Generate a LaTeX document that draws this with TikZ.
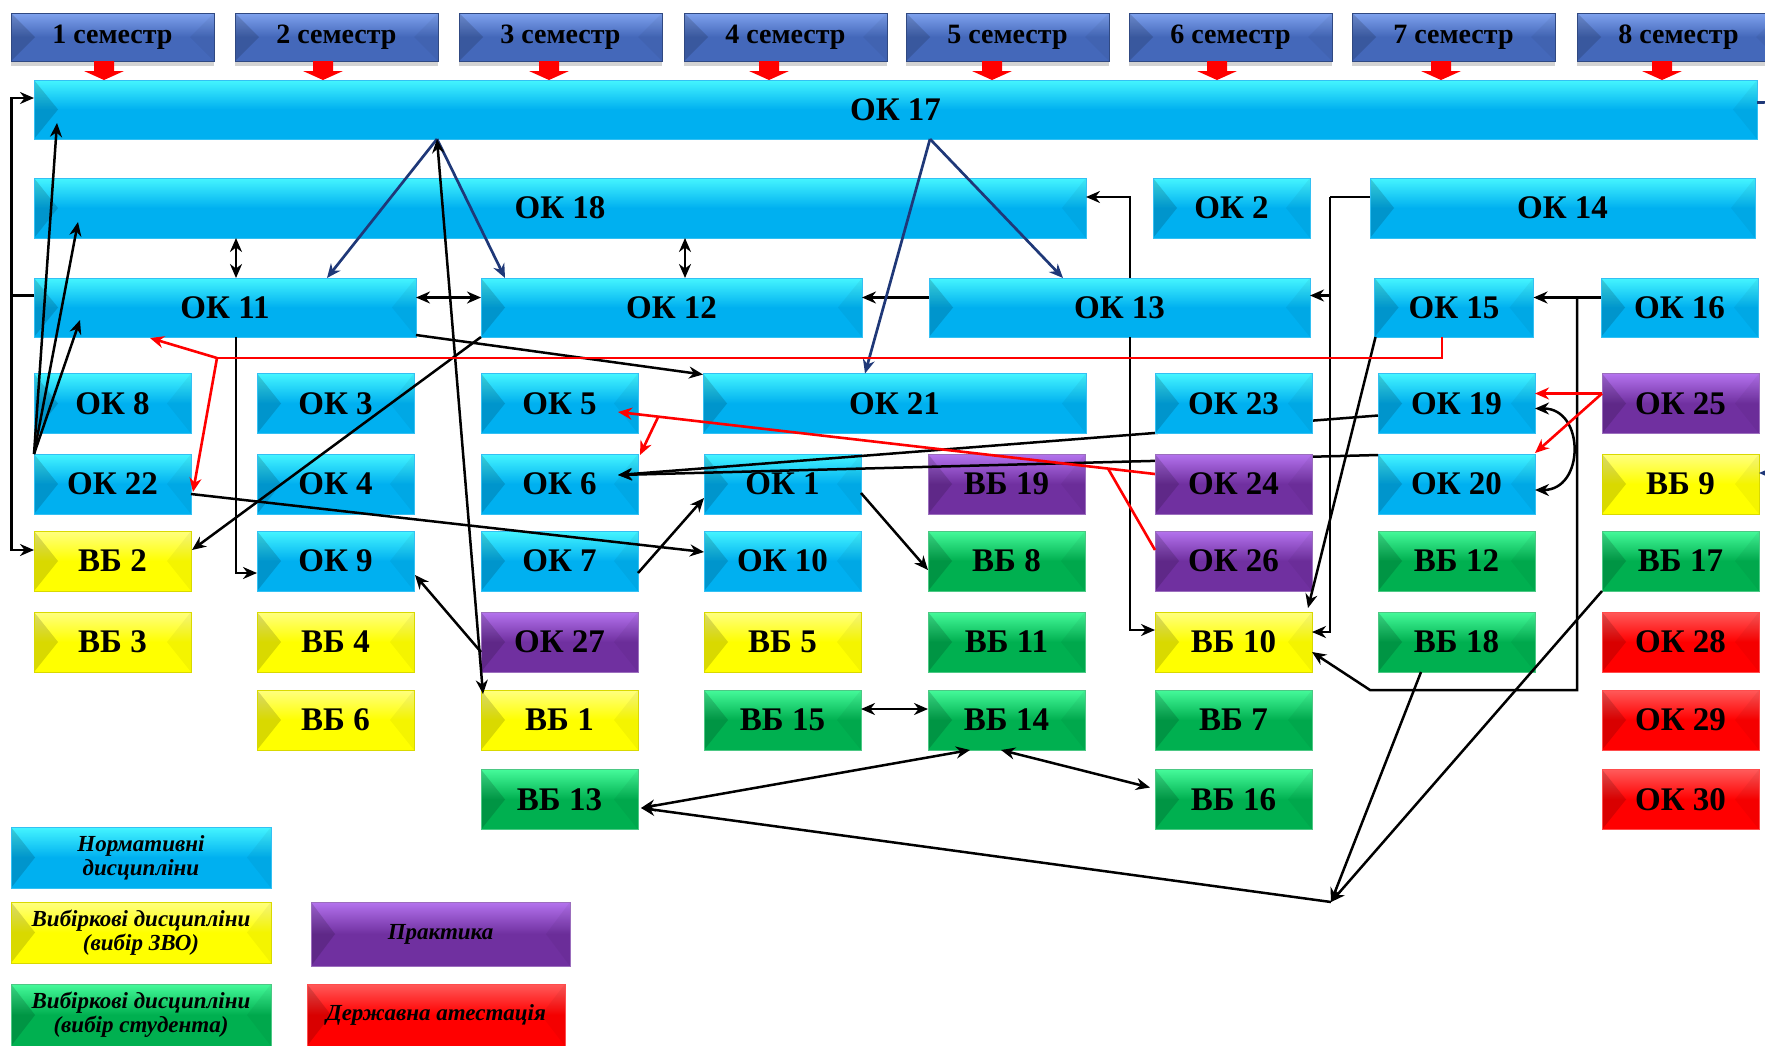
\documentclass[tikz,border=0pt]{standalone}
\usepackage{fontspec}
\setmainfont{Liberation Serif}
\usetikzlibrary{calc,arrows.meta,shadows}
\definecolor{cyB}{HTML}{00B0F0}
\definecolor{cyT}{HTML}{45F5FF}
\definecolor{ylB}{HTML}{FFFF00}
\definecolor{ylT}{HTML}{FFFF80}
\definecolor{grB}{HTML}{00B050}
\definecolor{grT}{HTML}{45FA9A}
\definecolor{puB}{HTML}{7030A0}
\definecolor{puT}{HTML}{B473EE}
\definecolor{rdB}{HTML}{FF0000}
\definecolor{rdT}{HTML}{FF5A5A}
\definecolor{seB}{HTML}{4468BA}
\definecolor{seT}{HTML}{7FA2EE}
\definecolor{navy}{HTML}{1F3878}
\pgfdeclarelayer{front}
\pgfsetlayers{main,front}
\tikzset{
  bev/.style={path picture={
    \fill[black,opacity=0.15] (path picture bounding box.north west) -- ([xshift=12pt]path picture bounding box.west) -- (path picture bounding box.south west) -- cycle;
    \fill[black,opacity=0.045] (path picture bounding box.north east) -- ([xshift=-12pt]path picture bounding box.east) -- (path picture bounding box.south east) -- cycle;}},
  basebox/.style={rectangle, inner sep=0pt, outer sep=0pt, bev, line width=0.4pt, text=black,
    font=\bfseries\fontsize{16.5}{18}\selectfont},
  kc/.style={basebox, draw=cyB!80!white, top color=cyT, bottom color=cyB, middle color=cyB},
  ky/.style={basebox, draw=ylB!85!black, top color=ylT, bottom color=ylB, middle color=ylB},
  kg/.style={basebox, draw=grB!70!white, top color=grT, bottom color=grB, middle color=grB},
  kp/.style={basebox, draw=puB!70!white, top color=puT, bottom color=puB, middle color=puB},
  kr/.style={basebox, draw=rdB!70!white, top color=rdT, bottom color=rdB, middle color=rdB},
  sem/.style={basebox, draw=seB!70!black, top color=seT, bottom color=seB, middle color=seB,
    drop shadow={opacity=0.35, shadow xshift=0pt, shadow yshift=-2.5pt},
    minimum width=101.5pt, minimum height=24pt, font=\bfseries\fontsize{14}{16}\selectfont},
  cell/.style={minimum width=78.5pt, minimum height=30pt},
  leg/.style={align=center, font=\bfseries\itshape\fontsize{11.5}{12}\selectfont},
  arr/.style={draw=black, line width=1.25pt, -{Stealth[length=7pt,width=6pt]}},
  dbl/.style={draw=black, line width=1.25pt, {Stealth[length=7pt,width=6pt]}-{Stealth[length=7pt,width=6pt]}},
  ln/.style={draw=black, line width=1.25pt},
  narr/.style={draw=navy, line width=1.35pt, -{Stealth[length=7pt,width=6pt]}},
  rarr/.style={draw=red, line width=1.3pt, -{Stealth[length=7pt,width=6pt]}},
  rln/.style={draw=red, line width=1.3pt}
}
\begin{document}
\begin{tikzpicture}[x=0.5pt,y=-0.5pt]
\useasboundingbox (0,0) rectangle (1765,1045);
\clip (0,0) rectangle (1765,1045);

% semesters
\node[sem] (s1) at (112.5,37) {1 семестр};
\node[sem] (s2) at (336.5,37) {2 семестр};
\node[sem] (s3) at (560.5,37) {3 семестр};
\node[sem] (s4) at (785.5,37) {4 семестр};
\node[sem] (s5) at (1007.5,37) {5 семестр};
\node[sem] (s6) at (1230.5,37) {6 семестр};
\node[sem] (s7) at (1453.5,37) {7 семестр};
\node[sem] (s8) at (1678.5,37) {8 семестр};

% wide boxes
\node[kc, minimum width=861.5pt, minimum height=29.5pt] (ok17) at (895.5,109.5) {ОК 17};
\node[kc, minimum width=526pt, minimum height=30pt] (ok18) at (560,208) {ОК 18};
\node[kc, cell] (ok2) at (1231.5,208) {ОК 2};
\node[kc, minimum width=192.5pt, minimum height=30pt] (ok14) at (1562.5,208) {ОК 14};
\node[kc, minimum width=191pt, minimum height=29.5pt] (ok11) at (225,307.5) {ОК 11};
\node[kc, minimum width=190.5pt, minimum height=29.5pt] (ok12) at (671.5,307.5) {ОК 12};
\node[kc, minimum width=190.5pt, minimum height=29.5pt] (ok13) at (1119.5,307.5) {ОК 13};
\node[kc, minimum width=79.5pt, minimum height=29.5pt] (ok15) at (1454,307.5) {ОК 15};
\node[kc, minimum width=78.5pt, minimum height=29.5pt] (ok16) at (1679.5,307.5) {ОК 16};

% row 4
\node[kc, cell] (ok8) at (112.5,403.5) {ОК 8};
\node[kc, cell] (ok3) at (335.5,403.5) {ОК 3};
\node[kc, cell] (ok5) at (559.5,403.5) {ОК 5};
\node[kc, minimum width=191.5pt, minimum height=30pt] (ok21) at (894.5,403.5) {ОК 21};
\node[kc, cell] (ok19) at (1456.5,403.5) {ОК 19};
\node[kp, cell] (ok25) at (1680.5,403.5) {ОК 25};
% row 5
\node[kc, cell] (ok22) at (112.5,484) {ОК 22};
\node[kc, cell] (ok4) at (335.5,484) {ОК 4};
\node[kc, cell] (ok6) at (559.5,484) {ОК 6};
\node[kc, cell] (ok1) at (782.5,484) {ОК 1};
\node[kp, cell] (vb19) at (1006.5,484) {ВБ 19};
\node[kc, cell] (ok20) at (1456.5,484) {ОК 20};
\node[ky, cell] (vb9) at (1680.5,484) {ВБ 9};
% row 6
\node[ky, cell] (vb2) at (112.5,561) {ВБ 2};
\node[kc, cell] (ok9) at (335.5,561) {ОК 9};
\node[kc, cell] (ok7) at (559.5,561) {ОК 7};
\node[kc, cell] (ok10) at (782.5,561) {ОК 10};
\node[kg, cell] (vb8) at (1006.5,561) {ВБ 8};
\node[kp, cell] (ok26) at (1233.5,561) {ОК 26};
\node[kg, cell] (vb12) at (1456.5,561) {ВБ 12};
\node[kg, cell] (vb17) at (1680.5,561) {ВБ 17};
% row 7
\node[ky, cell] (vb3) at (112.5,642) {ВБ 3};
\node[ky, cell] (vb4) at (335.5,642) {ВБ 4};
\node[kp, cell] (ok27) at (559.5,642) {ОК 27};
\node[ky, cell] (vb5) at (782.5,642) {ВБ 5};
\node[kg, cell] (vb11) at (1006.5,642) {ВБ 11};
\node[ky, cell] (vb10) at (1233.5,642) {ВБ 10};
\node[kg, cell] (vb18) at (1456.5,642) {ВБ 18};
\node[kr, cell] (ok28) at (1680.5,642) {ОК 28};
% row 8
\node[ky, cell] (vb6) at (335.5,720) {ВБ 6};
\node[ky, cell] (vb1) at (559.5,720) {ВБ 1};
\node[kg, cell] (vb15) at (782.5,720) {ВБ 15};
\node[kg, cell] (vb14) at (1006.5,720) {ВБ 14};
\node[kg, cell] (vb7) at (1233.5,720) {ВБ 7};
\node[kr, cell] (ok29) at (1680.5,720) {ОК 29};
% row 9
\node[kg, cell] (vb13) at (559.5,799.5) {ВБ 13};
\node[kg, cell] (vb16) at (1233.5,799.5) {ВБ 16};
\node[kr, cell] (ok30) at (1680.5,799.5) {ОК 30};

% boxes lying over the long lines
\begin{pgfonlayer}{front}
\node[kc, cell] (ok23) at (1233.5,403.5) {ОК 23};
\node[kp, cell] (ok24) at (1233.5,484) {ОК 24};
\end{pgfonlayer}

% legend
\node[kc, leg, minimum width=130pt, minimum height=30.5pt] (lg1) at (141,857.5) {Нормативні\\дисципліни};
\node[ky, leg, minimum width=130pt, minimum height=30.5pt] (lg2) at (141,932.5) {Вибіркові дисципліни\\(вибір ЗВО)};
\node[kg, leg, minimum width=130pt, minimum height=31pt] (lg3) at (141,1015) {Вибіркові дисципліни\\(вибір студента)};
\node[kp, leg, minimum width=129.5pt, minimum height=32pt] (lg4) at (440.5,934) {Практика};
\node[kr, leg, minimum width=129pt, minimum height=31pt] (lg5) at (436,1015) {Державна атестація};

% red block arrows from semesters
\foreach \x in {104,323,549,769,992,1217,1441,1662}
  \fill[red] (\x-10,61) -- (\x+10,61) -- (\x+10,71) -- (\x+20,71) -- (\x,80) -- (\x-20,71) -- (\x-10,71) -- cycle;

% left bus
\coordinate (busy) at ($(ok11.west)+(-22.5,-12)$);
\draw[ln] ($(ok11.west)+(0,-12)$) -- (busy);
\draw[arr] (busy) |- ($(ok17.west)+(0,-11.5)$);
\draw[arr] (busy) |- ($(vb2.west)+(0,-11)$);

% OK22 fan
\draw[arr] (ok22.north west) -- ($(ok17.south west)+(23,-16)$);
\draw[arr] (ok22.north west) -- ($(ok18.south west)+(44,-16)$);
\draw[arr] (ok22.north west) -- ($(ok11.south west)+(46,-17)$);

% double arrows in upper rows
\draw[dbl] ($(ok18.south west)+(202,0)$) -- ($(ok11.north west)+(202,0)$);
\draw[dbl] ($(ok18.south west)+(651,0)$) -- ($(ok12.north west)+(204,0)$);
\draw[dbl] ($(ok11.east)+(0,-10)$) -- ($(ok12.west)+(0,-10)$);
\draw[arr] ($(ok13.west)+(0,-10)$) -- ($(ok12.east)+(0,-10)$);
\draw[arr] ($(ok13.north west)+(201,0)$) |- ($(ok18.east)+(0,-11)$);
\draw[arr] ($(ok13.south west)+(201,0)$) |- ($(vb10.west)+(0,-12)$);

% OK14
\coordinate (k14) at ($(ok14.west)+(-40,-11)$);
\draw[ln] ($(ok14.west)+(0,-11)$) -- (k14);
\draw[arr] (k14) |- ($(ok13.east)+(0,-12)$);
\draw[arr] (k14) |- ($(vb10.east)+(0,-10)$);

% OK15, OK16
\draw[arr] ($(ok15.south west)+(1,0)$) -- ($(vb10.north east)+(-4,-4)$);
\coordinate (k16) at ($(ok16.west)+(-24,-10)$);
\draw[arr] ($(ok16.west)+(0,-10)$) -- ($(ok15.east)+(0,-10)$);
\coordinate (k16b) at (1577,690);
\coordinate (k16c) at (1370,690);
\draw[arr] (k16) -- (k16b) -- (k16c) -- ($(vb10.east)+(0,10)$);

% navy arrows from OK17
\coordinate (a1) at ($(ok17.south west)+(403,0)$);
\coordinate (a2) at ($(ok17.south west)+(896,0)$);
\draw[narr] (a1) -- ($(ok11.north west)+(293,0)$);
\draw[narr] (a1) -- ($(ok12.north west)+(24,0)$);
\draw[narr] (a2) -- ($(ok13.north west)+(134,0)$);
\draw[narr] (a2) -- ($(ok21.north west)+(162,0)$);
\draw[dbl] (a1) -- ($(vb1.north west)+(2,4)$);
\draw[narr] ($(ok17.east)+(0,-7)$) -- (1790,102) |- ($(vb9.east)+(0,-11)$);

% other black connectors
\draw[arr] ($(ok11.south east)+(0,-2)$) -- ($(ok21.north west)+(0,1)$);
\draw[arr] (ok12.south west) -- ($(vb2.east)+(1,-11)$);
\draw[arr] ($(ok11.south west)+(202,0)$) |- ($(ok9.west)+(0,12)$);
\draw[arr] ($(ok22.east)+(0,10)$) -- ($(ok10.west)+(0,-9)$);
\draw[arr] ($(ok27.west)+(0,10)$) -- ($(ok9.east)+(1,14)$);
\draw[arr] ($(ok7.east)+(0,12)$) -- ($(ok1.west)+(0,14)$);
\draw[arr] ($(ok1.east)+(0,9)$) -- ($(vb8.west)+(0,9)$);
\draw[arr] ($(ok19.west)+(0,12)$) -- ($(ok6.east)+(-20,-9)$);
\draw[arr] ($(ok20.west)+(0,-29)$) -- ($(ok6.east)+(-20,-9)$);
\draw[dbl] ($(ok19.east)+(0,5)$) .. controls +(50,0) and +(50,0) .. ($(ok20.east)+(0,6)$);

% red connectors
\draw[rarr] ($(ok25.west)+(0,-10)$) -- ($(ok19.east)+(0,-10)$);
\draw[rarr] ($(ok25.west)+(0,-10)$) -- ($(ok20.north east)+(0,-1)$);
\coordinate (rj) at ($(ok11.south west)+(183,21)$);
\draw[rln] ($(ok15.south)+(-12,0)$) |- (rj);
\draw[rarr] (rj) -- ($(ok11.south west)+(116,1)$);
\draw[rarr] (rj) -- ($(ok22.east)+(2,8)$);
\coordinate (r24) at ($(ok24.west)+(0,-10)$);
\coordinate (r5) at ($(ok5.east)+(-20,8.5)$);
\draw[rarr] (r24) -- (r5);
\draw[rarr] ($(r24)!0.925!(r5)$) -- ($(ok6.north east)+(2,1)$);
\draw[rln] ($(ok26.west)+(0,-11)$) -- ($(r24)!0.0875!(r5)$);

% bottom connectors
\draw[dbl] ($(vb15.east)+(0,-11)$) -- ($(vb14.west)+(0,-11)$);
\draw[dbl] ($(vb13.east)+(3,8.5)$) -- ($(vb14.south west)+(42,0)$);
\draw[dbl] ($(vb14.south west)+(73,0)$) -- ($(vb16.west)+(-5,-12)$);
\coordinate (jn) at (1331,902);
\draw[arr] ($(vb18.south west)+(43,0)$) -- (jn);
\draw[arr] (vb17.south west) -- (jn);
\draw[arr] (jn) -- ($(vb13.east)+(3,8.5)$);
\end{tikzpicture}
\end{document}
